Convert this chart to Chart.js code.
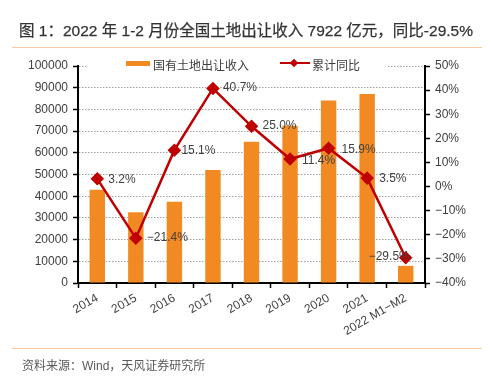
<!DOCTYPE html>
<html><head><meta charset="utf-8">
<script src="https://cdn.jsdelivr.net/npm/chart.js@4"></script>
<style>
html,body{margin:0;padding:0;background:#fff;}
#wrap{position:relative;width:492px;height:384px;overflow:hidden;font-family:"Liberation Sans",Arial,"Noto Sans CJK SC",sans-serif;}
#c{position:absolute;left:0;top:0;}
#title{position:absolute;left:0;width:492px;top:18px;text-align:center;font-size:15.5px;font-weight:normal;color:#333;-webkit-text-stroke:0.25px #333;font-family:"Liberation Sans",Arial,"Noto Sans CJK SC",sans-serif;white-space:nowrap;}
.sep{position:absolute;left:12px;width:470px;height:0;border-top:1.5px solid #F9C9A0;}
#source{position:absolute;left:22px;top:356px;font-size:12px;color:#595959;white-space:nowrap;}
#legend{position:absolute;left:88px;top:55px;width:300px;height:17px;background:#fff;font-size:12px;color:#404040;}
.lg{position:absolute;top:1px;white-space:nowrap;}
</style></head>
<body>
<div id="wrap">
<canvas id="c" width="492" height="384"></canvas>
<div id="title"></div>
<div class="sep" style="top:47px"></div>
<div id="legend">
  <div style="position:absolute;left:38px;top:6px;width:24px;height:5px;background:#F28A24"></div>
  <div class="lg" id="lg1" style="left:65px"></div>
  <div style="position:absolute;left:192px;top:7px;width:30px;height:0;border-top:2.5px solid #C00000"></div>
  <div style="position:absolute;left:203px;top:5px;width:6px;height:6px;background:#C00000;transform:rotate(45deg)"></div>
  <div class="lg" id="lg2" style="left:224px"></div>
</div>
<div class="sep" style="top:348px"></div>
<div id="source"></div>
</div>
<script>
const titleText = '图 1：2022 年 1-2 月份全国土地出让收入 7922 亿元，同比-29.5%';
const sourceText = '资料来源：Wind，天风证券研究所';
const barName = '国有土地出让收入';
const lineName = '累计同比';
const categories = ['2014','2015','2016','2017','2018','2019','2020','2021','2022 M1\u2212M2'];
const landRevenue = [42940,32547,37457,52059,65096,72517,84142,87051,7922];
const yoyGrowth = [3.2,-21.4,15.1,40.7,25.0,11.4,15.9,3.5,-29.5];
const leftTicks = [0,10000,20000,30000,40000,50000,60000,70000,80000,90000,100000];
const rightTicks = [-40,-30,-20,-10,0,10,20,30,40,50];

document.getElementById('title').textContent = titleText;
document.getElementById('source').textContent = sourceText;
document.getElementById('lg1').textContent = barName;
document.getElementById('lg2').textContent = lineName;

const fmtPct = v => (v < 0 ? '\u2212' + Math.abs(v).toFixed(1) : v.toFixed(1)) + '%';
const fmtTick = v => (v < 0 ? '\u2212' + Math.abs(v) : v) + '%';

// label placement: [dx, dy, align]
const labelPlace = [[11,1,'left'],[11,0,'left'],[7,1,'left'],[10,-1,'left'],[11,-1,'left'],[12,2,'left'],[13,1,'left'],[12,1,'left'],[4,-1,'right']];

const dataLabels = {
  id:'dataLabels',
  afterDatasetsDraw(chart){
    const meta = chart.getDatasetMeta(1);
    const ctx = chart.ctx;
    ctx.save();
    ctx.font = '12px "Liberation Sans", Arial, sans-serif';
    ctx.fillStyle = '#404040';
    ctx.textBaseline = 'middle';
    meta.data.forEach((pt,i)=>{
      const p = labelPlace[i];
      ctx.textAlign = p[2];
      ctx.fillText(fmtPct(yoyGrowth[i]), pt.x + p[0], pt.y + p[1]);
    });
    ctx.restore();
  }
};

const tickFont = {family:'"Liberation Sans", Arial, sans-serif', size:12};
new Chart(document.getElementById('c'), {
  data:{
    labels: categories,
    datasets:[
      {type:'bar', label:barName, data:landRevenue, yAxisID:'y', backgroundColor:'#F28A24', categoryPercentage:0.8, barPercentage:0.5, order:2},
      {type:'line', label:lineName, data:yoyGrowth, yAxisID:'y1', borderColor:'#C00000', borderWidth:2.5, pointStyle:'rectRot', pointRadius:5, pointBackgroundColor:'#C00000', pointBorderColor:'#C00000', tension:0, order:1}
    ]
  },
  options:{
    responsive:false, animation:false, devicePixelRatio:1,
    layout:{padding:{top:66,left:0,right:0,bottom:41}},
    plugins:{legend:{display:false}, tooltip:{enabled:false}},
    scales:{
      x:{offset:true,
        grid:{display:true, drawOnChartArea:false, drawTicks:true, tickLength:5, tickColor:'#000', tickWidth:1.5, offset:true},
        border:{color:'#000', width:2},
        ticks:{minRotation:30, maxRotation:30, autoSkip:false, font:tickFont, color:'#404040', padding:3},
        afterFit(s){s.height=60;}
      },
      y:{position:'left', min:0, max:100000,
        afterBuildTicks(s){s.ticks = leftTicks.map(v=>({value:v}));},
        grid:{color:'#A0A0A0', lineWidth:1, tickColor:'#000', tickLength:5, tickWidth:1.5},
        border:{color:'#000', width:2, dash:[1.5,1.5]},
        ticks:{font:tickFont, color:'#404040', padding:5, callback:v=>String(v)},
        afterFit(s){s.width=78;}
      },
      y1:{position:'right', min:-40, max:50,
        afterBuildTicks(s){s.ticks = rightTicks.map(v=>({value:v}));},
        grid:{drawOnChartArea:false, tickColor:'#000', tickLength:5, tickWidth:1.5},
        border:{color:'#000', width:2},
        ticks:{font:tickFont, color:'#404040', padding:5, callback:v=>fmtTick(v)},
        afterFit(s){s.width=67;}
      }
    }
  },
  plugins:[dataLabels]
});
</script>
</body></html>
